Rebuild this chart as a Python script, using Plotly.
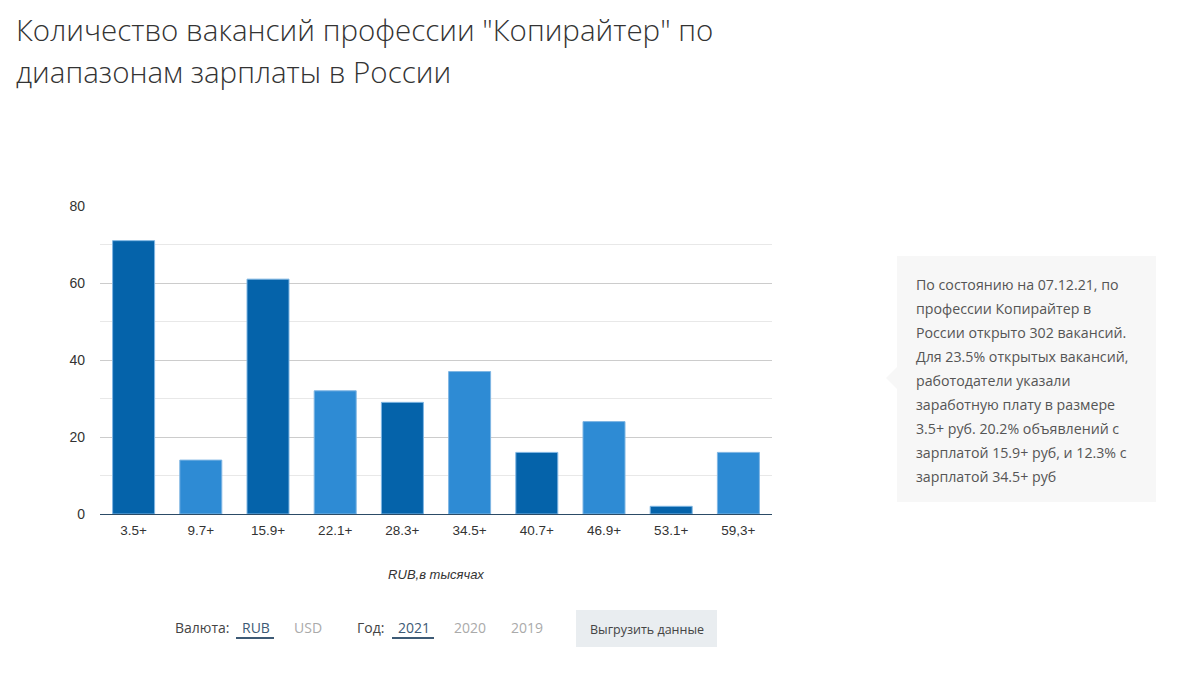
import plotly.graph_objects as go

# данные
ranges = ["3.5+", "9.7+", "15.9+", "22.1+", "28.3+", "34.5+", "40.7+", "46.9+", "53.1+", "59,3+"]
vacancies = [71, 14, 61, 32, 29, 37, 16, 24, 2, 16]
y_ticks = [0, 20, 40, 60, 80]

title_lines = ['Количество вакансий профессии "Копирайтер" по', 'диапазонам зарплаты в России']
note_lines = [
    "По состоянию на 07.12.21, по",
    "профессии Копирайтер в",
    "России открыто 302 вакансий.",
    "Для 23.5% открытых вакансий,",
    "работодатели указали",
    "заработную плату в размере",
    "3.5+ руб. 20.2% объявлений с",
    "зарплатой 15.9+ руб, и 12.3% с",
    "зарплатой 34.5+ руб",
]

# страница добавляет отступ 8px у body, компенсируем
OFF = 8
W, H = 1181 - OFF, 674 - OFF
L, R, T, B = 100, 772, 206, 514  # границы области построения на экране

def px(x):
    return (x - L) / (R - L)

def py(y):
    return (B - y) / (B - T)

DARK = "#0563aa"
LIGHT = "#2e8bd4"
colors = [DARK if i % 2 == 0 else LIGHT for i in range(len(ranges))]

fig = go.Figure(go.Bar(
    x=ranges, y=vacancies,
    marker=dict(color=colors, line=dict(color="#7fb6e3", width=1)),
    hoverinfo="x+y",
))

ann = []
for i, line in enumerate(title_lines):
    ann.append(dict(x=px(14), y=py(29 + i * 42), xref="paper", yref="paper",
                    xanchor="left", yanchor="middle", showarrow=False, text=line,
                    font=dict(family="Open Sans", size=29.5, color="#333333", weight=300)))

for i, line in enumerate(note_lines):
    ann.append(dict(x=px(914), y=py(284 + i * 24), xref="paper", yref="paper",
                    xanchor="left", yanchor="middle", showarrow=False, text=line,
                    font=dict(family="Open Sans", size=14.2, color="#555555")))

ctrl_font = "Open Sans"
controls = [
    ("Валюта:", 173, "#444444"),
    ("RUB", 240, "#3d5a75"),
    ("USD", 292, "#aaaaaa"),
    ("Год:", 355, "#444444"),
    ("2021", 396, "#3d5a75"),
    ("2020", 452, "#aaaaaa"),
    ("2019", 509, "#aaaaaa"),
]
for text, x0, col in controls:
    ann.append(dict(x=px(x0), y=py(627), xref="paper", yref="paper",
                    xanchor="left", yanchor="middle", showarrow=False, text=text,
                    font=dict(family=ctrl_font, size=14, color=col)))
ann.append(dict(x=px(646.5), y=py(629), xref="paper", yref="paper",
                xanchor="center", yanchor="middle", showarrow=False, text="Выгрузить данные",
                font=dict(family=ctrl_font, size=12.5, color="#444444")))

shapes = [
    # серый блок с пояснением
    dict(type="rect", xref="paper", yref="paper", x0=px(897), x1=px(1156), y0=py(256), y1=py(502),
         fillcolor="#f7f7f7", line=dict(width=0), layer="below"),
    dict(type="path", xref="paper", yref="paper",
         path=f"M {px(897)} {py(367)} L {px(886)} {py(378)} L {px(897)} {py(389)} Z",
         fillcolor="#f7f7f7", line=dict(width=0), layer="below"),
    # подчёркивания активных вариантов
    dict(type="line", xref="paper", yref="paper", x0=px(236), x1=px(274), y0=py(638), y1=py(638),
         line=dict(color="#3d5a75", width=2)),
    dict(type="line", xref="paper", yref="paper", x0=px(392), x1=px(434), y0=py(638), y1=py(638),
         line=dict(color="#3d5a75", width=2)),
    # кнопка
    dict(type="rect", xref="paper", yref="paper", x0=px(576), x1=px(717), y0=py(610), y1=py(647),
         fillcolor="#e9edf0", line=dict(width=0), layer="below"),
    # правая граница страницы
    dict(type="rect", xref="paper", yref="paper", x0=px(1176), x1=px(1181), y0=py(OFF), y1=py(674),
         fillcolor="#f6f6f6", line=dict(width=0), layer="below"),
    dict(type="line", xref="paper", yref="paper", x0=px(1176), x1=px(1176), y0=py(OFF), y1=py(674),
         line=dict(color="#dddddd", width=1)),
]

fig.update_layout(
    width=W, height=H,
    margin=dict(l=L - OFF, r=1181 - R, t=T - OFF, b=674 - B),
    plot_bgcolor="white", paper_bgcolor="white",
    bargap=0.375,
    showlegend=False,
    font=dict(family="Arial", size=13, color="#333333"),
    annotations=ann,
    shapes=shapes,
    xaxis=dict(
        showline=True, linecolor="#2c4b66", linewidth=1,
        ticks="", tickfont=dict(family="Arial", size=13.5, color="#333333"),
        ticklabelstandoff=4,
        title=dict(text="<i>RUB,в тысячах</i>", standoff=32,
                   font=dict(family="Arial", size=13, color="#333333")),
        fixedrange=True,
    ),
    yaxis=dict(
        range=[0, 80], tickvals=y_ticks,
        showgrid=True, gridcolor="#cccccc", gridwidth=1,
        minor=dict(showgrid=True, gridcolor="#e8e8e8", tick0=0, dtick=10),
        zeroline=False, showline=False, ticks="",
        tickfont=dict(family="Arial", size=14, color="#333333"),
        ticklabelstandoff=14,
        fixedrange=True,
    ),
)

fig.write_html("out.html")
